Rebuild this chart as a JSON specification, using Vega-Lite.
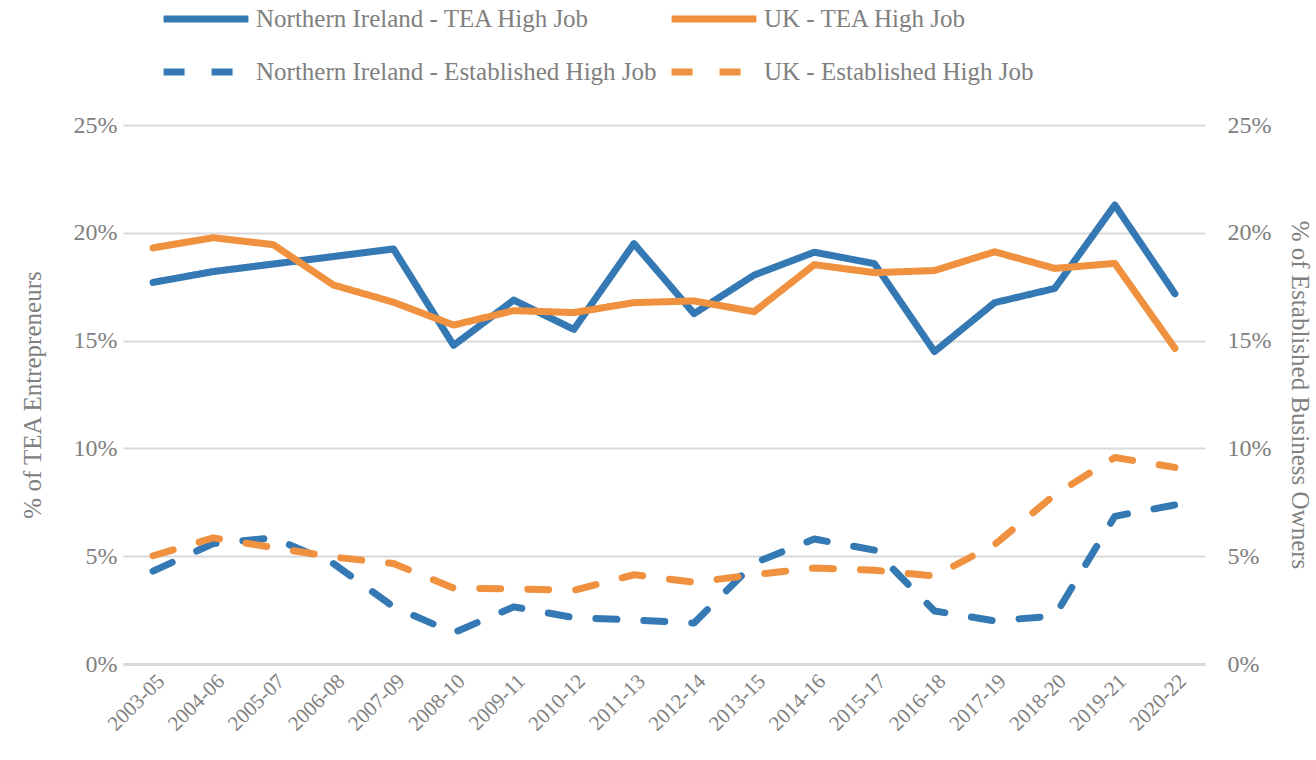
{
  "$schema": "https://vega.github.io/schema/vega-lite/v6.json",
  "width": 1082,
  "height": 539,
  "autosize": {"type": "none"},
  "padding": {"left": 123, "top": 125, "right": 111, "bottom": 96},
  "background": "white",
  "datasets": {
    "rows": [
      {"period": "2003-05", "series": "Northern Ireland - TEA High Job", "kind": "TEA", "value": 0.1770},
      {"period": "2004-06", "series": "Northern Ireland - TEA High Job", "kind": "TEA", "value": 0.1820},
      {"period": "2005-07", "series": "Northern Ireland - TEA High Job", "kind": "TEA", "value": 0.1855},
      {"period": "2006-08", "series": "Northern Ireland - TEA High Job", "kind": "TEA", "value": 0.1890},
      {"period": "2007-09", "series": "Northern Ireland - TEA High Job", "kind": "TEA", "value": 0.1925},
      {"period": "2008-10", "series": "Northern Ireland - TEA High Job", "kind": "TEA", "value": 0.1478},
      {"period": "2009-11", "series": "Northern Ireland - TEA High Job", "kind": "TEA", "value": 0.1688},
      {"period": "2010-12", "series": "Northern Ireland - TEA High Job", "kind": "TEA", "value": 0.1552},
      {"period": "2011-13", "series": "Northern Ireland - TEA High Job", "kind": "TEA", "value": 0.1950},
      {"period": "2012-14", "series": "Northern Ireland - TEA High Job", "kind": "TEA", "value": 0.1625},
      {"period": "2013-15", "series": "Northern Ireland - TEA High Job", "kind": "TEA", "value": 0.1804},
      {"period": "2014-16", "series": "Northern Ireland - TEA High Job", "kind": "TEA", "value": 0.1910},
      {"period": "2015-17", "series": "Northern Ireland - TEA High Job", "kind": "TEA", "value": 0.1857},
      {"period": "2016-18", "series": "Northern Ireland - TEA High Job", "kind": "TEA", "value": 0.1449},
      {"period": "2017-19", "series": "Northern Ireland - TEA High Job", "kind": "TEA", "value": 0.1676},
      {"period": "2018-20", "series": "Northern Ireland - TEA High Job", "kind": "TEA", "value": 0.1742},
      {"period": "2019-21", "series": "Northern Ireland - TEA High Job", "kind": "TEA", "value": 0.2129},
      {"period": "2020-22", "series": "Northern Ireland - TEA High Job", "kind": "TEA", "value": 0.1717},
      {"period": "2003-05", "series": "UK - TEA High Job", "kind": "TEA", "value": 0.1930},
      {"period": "2004-06", "series": "UK - TEA High Job", "kind": "TEA", "value": 0.1977},
      {"period": "2005-07", "series": "UK - TEA High Job", "kind": "TEA", "value": 0.1945},
      {"period": "2006-08", "series": "UK - TEA High Job", "kind": "TEA", "value": 0.1758},
      {"period": "2007-09", "series": "UK - TEA High Job", "kind": "TEA", "value": 0.1678},
      {"period": "2008-10", "series": "UK - TEA High Job", "kind": "TEA", "value": 0.1572},
      {"period": "2009-11", "series": "UK - TEA High Job", "kind": "TEA", "value": 0.1639},
      {"period": "2010-12", "series": "UK - TEA High Job", "kind": "TEA", "value": 0.1630},
      {"period": "2011-13", "series": "UK - TEA High Job", "kind": "TEA", "value": 0.1676},
      {"period": "2012-14", "series": "UK - TEA High Job", "kind": "TEA", "value": 0.1684},
      {"period": "2013-15", "series": "UK - TEA High Job", "kind": "TEA", "value": 0.1634},
      {"period": "2014-16", "series": "UK - TEA High Job", "kind": "TEA", "value": 0.1852},
      {"period": "2015-17", "series": "UK - TEA High Job", "kind": "TEA", "value": 0.1815},
      {"period": "2016-18", "series": "UK - TEA High Job", "kind": "TEA", "value": 0.1825},
      {"period": "2017-19", "series": "UK - TEA High Job", "kind": "TEA", "value": 0.1912},
      {"period": "2018-20", "series": "UK - TEA High Job", "kind": "TEA", "value": 0.1835},
      {"period": "2019-21", "series": "UK - TEA High Job", "kind": "TEA", "value": 0.1858},
      {"period": "2020-22", "series": "UK - TEA High Job", "kind": "TEA", "value": 0.1464},
      {"period": "2003-05", "series": "Northern Ireland - Established High Job", "kind": "EST", "value": 0.0431},
      {"period": "2004-06", "series": "Northern Ireland - Established High Job", "kind": "EST", "value": 0.0559},
      {"period": "2005-07", "series": "Northern Ireland - Established High Job", "kind": "EST", "value": 0.0585},
      {"period": "2006-08", "series": "Northern Ireland - Established High Job", "kind": "EST", "value": 0.0466},
      {"period": "2007-09", "series": "Northern Ireland - Established High Job", "kind": "EST", "value": 0.0265},
      {"period": "2008-10", "series": "Northern Ireland - Established High Job", "kind": "EST", "value": 0.0145},
      {"period": "2009-11", "series": "Northern Ireland - Established High Job", "kind": "EST", "value": 0.0265},
      {"period": "2010-12", "series": "Northern Ireland - Established High Job", "kind": "EST", "value": 0.0215},
      {"period": "2011-13", "series": "Northern Ireland - Established High Job", "kind": "EST", "value": 0.0204},
      {"period": "2012-14", "series": "Northern Ireland - Established High Job", "kind": "EST", "value": 0.0190},
      {"period": "2013-15", "series": "Northern Ireland - Established High Job", "kind": "EST", "value": 0.0468},
      {"period": "2014-16", "series": "Northern Ireland - Established High Job", "kind": "EST", "value": 0.0580},
      {"period": "2015-17", "series": "Northern Ireland - Established High Job", "kind": "EST", "value": 0.0528},
      {"period": "2016-18", "series": "Northern Ireland - Established High Job", "kind": "EST", "value": 0.0246},
      {"period": "2017-19", "series": "Northern Ireland - Established High Job", "kind": "EST", "value": 0.0200},
      {"period": "2018-20", "series": "Northern Ireland - Established High Job", "kind": "EST", "value": 0.0223},
      {"period": "2019-21", "series": "Northern Ireland - Established High Job", "kind": "EST", "value": 0.0685},
      {"period": "2020-22", "series": "Northern Ireland - Established High Job", "kind": "EST", "value": 0.0738},
      {"period": "2003-05", "series": "UK - Established High Job", "kind": "EST", "value": 0.0502},
      {"period": "2004-06", "series": "UK - Established High Job", "kind": "EST", "value": 0.0585},
      {"period": "2005-07", "series": "UK - Established High Job", "kind": "EST", "value": 0.0540},
      {"period": "2006-08", "series": "UK - Established High Job", "kind": "EST", "value": 0.0496},
      {"period": "2007-09", "series": "UK - Established High Job", "kind": "EST", "value": 0.0466},
      {"period": "2008-10", "series": "UK - Established High Job", "kind": "EST", "value": 0.0352},
      {"period": "2009-11", "series": "UK - Established High Job", "kind": "EST", "value": 0.0348},
      {"period": "2010-12", "series": "UK - Established High Job", "kind": "EST", "value": 0.0342},
      {"period": "2011-13", "series": "UK - Established High Job", "kind": "EST", "value": 0.0414},
      {"period": "2012-14", "series": "UK - Established High Job", "kind": "EST", "value": 0.0379},
      {"period": "2013-15", "series": "UK - Established High Job", "kind": "EST", "value": 0.0414},
      {"period": "2014-16", "series": "UK - Established High Job", "kind": "EST", "value": 0.0445},
      {"period": "2015-17", "series": "UK - Established High Job", "kind": "EST", "value": 0.0435},
      {"period": "2016-18", "series": "UK - Established High Job", "kind": "EST", "value": 0.0408},
      {"period": "2017-19", "series": "UK - Established High Job", "kind": "EST", "value": 0.0554},
      {"period": "2018-20", "series": "UK - Established High Job", "kind": "EST", "value": 0.0785},
      {"period": "2019-21", "series": "UK - Established High Job", "kind": "EST", "value": 0.0958},
      {"period": "2020-22", "series": "UK - Established High Job", "kind": "EST", "value": 0.0912}
    ]
  },
  "data": {"name": "rows"},
  "encoding": {
    "x": {
      "field": "period",
      "type": "ordinal",
      "sort": null,
      "scale": {"type": "point", "padding": 0.5},
      "axis": {
        "title": null,
        "labelAngle": -45,
        "labelFontSize": 21,
        "labelPadding": 6,
        "domain": true,
        "domainColor": "#d9d9d9",
        "domainWidth": 3,
        "grid": false
      }
    },
    "color": {
      "field": "series",
      "type": "nominal",
      "scale": {
        "domain": ["Northern Ireland - TEA High Job", "Northern Ireland - Established High Job", "UK - TEA High Job", "UK - Established High Job"],
        "range": ["#3479b3", "#3479b3", "#f0913f", "#f0913f"]
      },
      "legend": {
        "orient": "none",
        "legendX": 44,
        "legendY": -145,
        "columns": 2,
        "title": null,
        "symbolType": "M-1.2,0L1.2,0",
        "symbolSize": 5000,
        "symbolStrokeWidth": 7,
        "labelFontSize": 25,
        "labelColor": "#808080",
        "labelLimit": 700,
        "labelOffset": 11,
        "columnPadding": 0,
        "rowPadding": -3,
        "padding": 0
      }
    },
    "strokeDash": {
      "field": "series",
      "type": "nominal",
      "scale": {
        "domain": ["Northern Ireland - TEA High Job", "Northern Ireland - Established High Job", "UK - TEA High Job", "UK - Established High Job"],
        "range": [[1, 0], [21, 27], [1, 0], [21, 27]]
      },
      "legend": null
    }
  },
  "layer": [
    {
      "transform": [{"filter": "datum.kind === 'TEA'"}],
      "mark": {"type": "line", "strokeWidth": 7, "strokeCap": "round", "strokeJoin": "round"},
      "encoding": {
        "y": {
          "field": "value",
          "type": "quantitative",
          "scale": {"domain": [0, 0.25], "nice": false},
          "axis": {
            "orient": "left",
            "title": "% of TEA Entrepreneurs",
            "format": ".0%",
            "values": [0, 0.05, 0.1, 0.15, 0.2, 0.25],
            "labelOverlap": false,
            "labelFontSize": 24,
            "labelPadding": 6,
            "titleFontSize": 25,
            "titlePadding": 28,
            "grid": true
          }
        }
      }
    },
    {
      "transform": [{"filter": "datum.kind === 'EST'"}],
      "mark": {"type": "line", "strokeWidth": 7, "strokeCap": "round", "strokeJoin": "round"},
      "encoding": {
        "y": {
          "field": "value",
          "type": "quantitative",
          "scale": {"domain": [0, 0.25], "nice": false},
          "axis": {
            "orient": "right",
            "title": "% of Established Business Owners",
            "format": ".0%",
            "values": [0, 0.05, 0.1, 0.15, 0.2, 0.25],
            "labelOverlap": false,
            "labelFontSize": 24,
            "labelPadding": 22,
            "titleFontSize": 25,
            "titlePadding": 16,
            "grid": false
          }
        }
      }
    }
  ],
  "resolve": {"scale": {"y": "independent"}},
  "config": {
    "view": {"stroke": null},
    "font": "Liberation Serif",
    "axis": {
      "labelFont": "Liberation Serif",
      "titleFont": "Liberation Serif",
      "labelColor": "#808080",
      "titleColor": "#808080",
      "titleFontWeight": "normal",
      "ticks": false,
      "domain": false,
      "gridColor": "#d9d9d9",
      "gridWidth": 2
    },
    "legend": {"labelFont": "Liberation Serif"}
  }
}
